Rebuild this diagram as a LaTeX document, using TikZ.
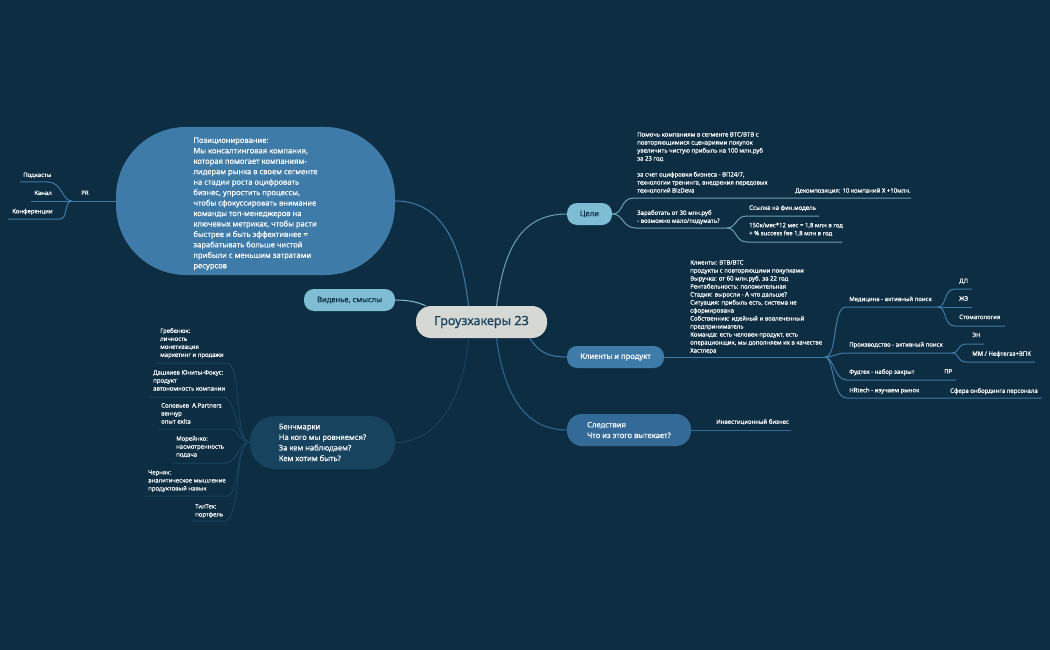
\documentclass[tikz,border=0pt]{standalone}
\usepackage{fontspec}
\setmainfont{Noto Sans}
\newfontfamily\mediumfont[FakeBold=0.35]{Noto Sans}
\newfontfamily\heavyfont[FakeBold=1.1]{Noto Sans}
\definecolor{bgdark}{HTML}{0D2D42}
\definecolor{rootgrey}{HTML}{D5D8D3}
\definecolor{skyblue}{HTML}{7FBDD5}
\definecolor{midblue}{HTML}{3F7BA8}
\definecolor{steelblue}{HTML}{336A98}
\definecolor{deepblue}{HTML}{17435F}
\tikzset{
  topic/.style={rectangle, inner sep=0pt, align=left, text=white, font=\mediumfont\fontsize{7.6}{10.6}\selectfont},
  leaf/.style={inner sep=0pt, anchor=north west, align=left, text=white, font=\mediumfont\fontsize{6}{8}\selectfont},
  link/.style={line width=1pt},
}
\begin{document}
\begin{tikzpicture}[x=1pt, y=-1pt]
    \useasboundingbox (0, 0) rectangle (1050, 650);
    \fill[bgdark] (0, 0) rectangle (1050, 650);
    % central topic and main branches
    \node[topic, fill=rootgrey, text=deepblue, minimum width=131pt, minimum height=32pt, rounded corners=15pt, font=\mediumfont\fontsize{12.6}{15}\selectfont] (root) at (481.5, 322) {Гроузхакеры {\heavyfont 23}};
    \node[topic, fill=midblue, minimum width=279pt, minimum height=148pt, rounded corners=70pt, font=\mediumfont\fontsize{7.6}{10.45}\selectfont] (pos) at (255.5, 201) {\rule{0pt}{11pt}Позиционирование:\\Мы консалтинговая компания,\\которая помогает компаниям-\\лидерам рынка в своем сегменте\\на стадии роста оцифровать\\бизнес, упростить процессы,\\чтобы сфокуссировать внимание\\команды топ-менеджеров на\\ключевых метриках, чтобы расти\\быстрее и быть эффективнее =\\зарабатывать больше чистой\\прибыли с меньшим затратами\\ресурсов};
    \node[topic, fill=skyblue, text=bgdark, minimum width=91pt, minimum height=22pt, rounded corners=10pt] (vision) at (349.5, 300) {Виденье, смыслы};
    \node[topic, fill=deepblue, minimum width=145pt, minimum height=53pt, rounded corners=25pt] (bench) at (322.5, 442.5) {Бенчмарки\\На кого мы ровняемся?\\За кем наблюдаем?\\Кем хотим быть?};
    \node[topic, fill=skyblue, text=bgdark, minimum width=45pt, minimum height=22pt, rounded corners=10pt] (goals) at (589.5, 214) {Цели};
    \node[topic, fill=midblue, minimum width=97pt, minimum height=22pt, rounded corners=10pt] (clients) at (615.5, 357) {Клиенты и продукт};
    \node[topic, fill=steelblue, minimum width=124pt, minimum height=32pt, rounded corners=15pt] (result) at (629, 430) {Следствия\\Что из этого вытекает?};
    \draw[link, midblue] (pos.east) .. controls (445, 201) and (462, 250) .. ([xshift=-13pt]root.north);
    \draw[link, skyblue] (vision.east) .. controls (408, 300) and (418, 302) .. ([xshift=-56pt]root.north);
    \draw[link, deepblue] (bench.east) .. controls (440, 442) and (464, 395) .. ([xshift=-13pt]root.south);
    \draw[link, skyblue!85!black] (goals.west) .. controls (515, 214) and (503, 260) .. ([xshift=15pt]root.north);
    \draw[link, midblue] (clients.west) .. controls (545, 357) and (538, 350) .. ([xshift=48pt]root.south);
    \draw[link, steelblue] (result.west) .. controls (525, 430) and (504, 395) .. ([xshift=15pt]root.south);
    % PR
    \node[leaf] (pr) at (81, 190.5) {PR};
    \node[leaf] (podcasts) at (23, 172.5) {Подкасты};
    \node[leaf] (channel) at (34, 190.5) {Канал};
    \node[leaf] (confs) at (12, 208.5) {Конференции};
    \coordinate (prhub) at (72, 201);
    \coordinate (podl) at (20, 182);
    \coordinate (podr) at (48, 182);
    \coordinate (chanl) at (31, 201);
    \coordinate (confl) at (8, 219);
    \coordinate (confr) at (60, 219);
    \draw[link, midblue] (pos.west) -- (prhub);
    \draw[link, midblue] (prhub) -- (chanl);
    \draw[link, midblue] (prhub) .. controls (62, 201) and (62, 182) .. (podr) -- (podl);
    \draw[link, midblue] (prhub) .. controls (64, 201) and (68, 219) .. (confr) -- (confl);
    % benchmarks
    \node[leaf] (grebenyuk) at (160, 328) {Гребенюк:\\личность\\монетизация\\маркетинг и продажи};
    \node[leaf] (dashkev) at (153, 370) {Дашкиев Юниты-Фокус:\\продукт\\автономность компании};
    \node[leaf] (solovyev) at (161, 403) {Соловьев\ \ A.Partners\\венчур\\опыт exita};
    \node[leaf] (moreyko) at (176, 436) {Морейнко:\\насмотренность\\подача};
    \node[leaf] (chernyak) at (148, 470) {Черняк:\\аналитическое мышление\\продуктовый навык};
    \node[leaf] (tiltech) at (195, 504) {ТилТех:\\портфель};
    \coordinate (benchhub) at (250, 442);
    \draw[link, deepblue] (bench.west) -- (benchhub);
    \draw[link, deepblue] (156, 363) coordinate (grebl) -- (228, 363) coordinate (grebr) .. controls (242, 370) and (234, 442) .. (benchhub);
    \draw[link, deepblue] (149, 397) coordinate (dashl) -- (224, 397) coordinate (dashr) .. controls (238, 402) and (236, 442) .. (benchhub);
    \draw[link, deepblue] (158, 429) coordinate (soll) -- (230, 429) coordinate (solr) .. controls (240, 431) and (238, 442) .. (benchhub);
    \draw[link, deepblue] (172, 463) coordinate (morl) -- (226, 463) coordinate (morr) .. controls (238, 462) and (238, 442) .. (benchhub);
    \draw[link, deepblue] (144, 496) coordinate (chel) -- (228, 496) coordinate (cher) .. controls (240, 490) and (236, 442) .. (benchhub);
    \draw[link, deepblue] (192, 521) coordinate (till) -- (226, 521) coordinate (tilr) .. controls (242, 512) and (234, 442) .. (benchhub);
    % goals
    \node[leaf] (goalone) at (637, 132) {Помочь компаниям в сегменте BTC/BTB с\\повторяющимися сценариями покупок\\увеличить чистую прибыль на 100 млн.руб\\за 23 год\\\\за счет оцифровки бизнеса - ВП24/7,\\технологии тренинга, внедрения передовых\\технологий BizDevа};
    \node[leaf] (decomp) at (795, 188) {Декомпозиция: 10 компаний Х +10млн.};
    \node[leaf] (goaltwo) at (637, 210) {Заработать от 30 млн.руб\\- возможно мало/подумать?};
    \node[leaf] (finmodel) at (749, 205) {Ссылка на фин.модель};
    \node[leaf] (fee) at (749, 222.5) {150к/мес*12 мес = 1,8 млн в год\\+ \% success fee 1,8 млн в год};
    \coordinate (goalhub) at (727, 228);
    \draw[link, skyblue!85!black] (goals.east) .. controls (624, 214) and (620, 198) .. (634, 198) coordinate (goalonel) -- (911, 198) coordinate (goalr);
    \draw[link, skyblue!85!black] (goals.east) .. controls (624, 214) and (622, 228) .. (636, 228) coordinate (goaltwol) -- (goalhub);
    \draw[link, skyblue!85!black] (goalhub) .. controls (737, 228) and (735, 216) .. (747, 216) coordinate (finl) -- (819, 216) coordinate (finr);
    \draw[link, skyblue!85!black] (goalhub) .. controls (737, 228) and (735, 242) .. (747, 242) coordinate (feel) -- (842, 242) coordinate (feer);
    % clients
    \node[leaf] (portrait) at (690, 260) {Клиенты: BTB/BTC\\продукты с повторяющими покупками\\Выручка: от 60 млн.руб. за 22 год\\Рентабельность: положительная\\Стадия: выросли - А что дальше?\\Ситуация: прибыль есть, система не\\сформирована\\Собственник: идейный и вовлеченный\\предприниматель\\Команда: есть человек-продукт, есть\\операционщик, мы дополняем их в качестве\\Хастлера};
    \node[leaf] (medicine) at (849, 296.5) {Медицина - активный поиск};
    \node[leaf] (factory) at (849, 342) {Производство - активный поиск};
    \node[leaf] (foodtech) at (849, 369) {Фудтек - набор закрыт};
    \node[leaf] (prnote) at (944, 369) {ПР};
    \node[leaf] (hrtech) at (849, 387.5) {HRtech - изучаем рынок};
    \node[leaf] (onboard) at (950, 388) {Сфера онбординга персонала};
    \node[leaf] (dl) at (959, 278.5) {ДЛ};
    \node[leaf] (zhz) at (959, 296) {ЖЗ};
    \node[leaf] (dental) at (959, 314.5) {Стоматология};
    \node[leaf] (en) at (972, 332.5) {ЭН};
    \node[leaf] (oil) at (972, 351) {ММ / Нефтегаз+ВПК};
    \coordinate (clienthub) at (825, 357);
    \coordinate (medhub) at (938, 307);
    \coordinate (factoryhub) at (952, 353);
    \draw[link, midblue] (clients.east) -- (clienthub);
    \draw[link, midblue] (clienthub) .. controls (838, 357) and (832, 307) .. (846, 307) coordinate (medl) -- (medhub);
    \draw[link, midblue] (clienthub) .. controls (834, 357) and (836, 353) .. (846, 353) coordinate (facl) -- (factoryhub);
    \draw[link, midblue] (clienthub) .. controls (834, 357) and (834, 380) .. (847, 380) coordinate (foodl) -- (956, 380) coordinate (foodr);
    \draw[link, midblue] (clienthub) .. controls (834, 357) and (832, 398) .. (847, 398) coordinate (hrl) -- (1042, 398) coordinate (hrr);
    \draw[link, midblue] (medhub) .. controls (947, 307) and (943, 289) .. (955, 289) coordinate (dll) -- (972, 289) coordinate (dlr);
    \draw[link, midblue] (medhub) -- (972, 307) coordinate (zhzr);
    \draw[link, midblue] (medhub) .. controls (947, 307) and (943, 326) .. (955, 326) coordinate (dentl) -- (1005, 326) coordinate (dentr);
    \draw[link, midblue] (factoryhub) .. controls (960, 353) and (956, 344) .. (967, 344) coordinate (enl) -- (984, 344) coordinate (enr);
    \draw[link, midblue] (factoryhub) .. controls (960, 353) and (956, 362) .. (967, 362) coordinate (oill) -- (1035, 362) coordinate (oilr);
    % result
    \node[leaf] (invest) at (716, 419) {Инвестиционный бизнес};
    \coordinate (investr) at (791, 430);
    \draw[link, steelblue] (result.east) -- (investr);
\end{tikzpicture}
\end{document}
